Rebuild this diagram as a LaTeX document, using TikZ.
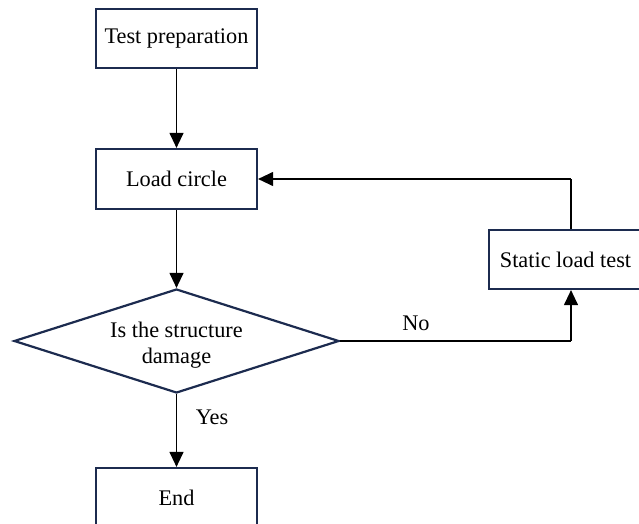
\documentclass[tikz,border=0pt]{standalone}
\usepackage{fontspec}
\setmainfont{Liberation Serif}
\usetikzlibrary{shapes.geometric,arrows.meta}
\definecolor{navy}{HTML}{1C2B4F}
\begin{document}
\begin{tikzpicture}[x=1pt,y=-1pt,
  txt/.style={font=\fontsize{22.3}{26}\selectfont},
  box/.style={txt,draw=navy,line width=2.2pt,rectangle,minimum width=161pt,minimum height=59pt,inner sep=0pt},
  dec/.style={draw=navy,line width=2.2pt,diamond,minimum width=325pt,minimum height=104pt,aspect=3.1,inner sep=0pt},
  conn/.style={draw=black,line width=1.2pt},
  arr/.style={conn,-{Triangle[length=15pt,width=14pt]}},
  lbl/.style={txt,inner sep=0pt}]
\useasboundingbox (0,0) rectangle (639,524);
\clip (0,0) rectangle (639,524);
\node[box] (tp) at (176.5,38.5) {Test preparation};
\node[box,minimum height=60pt] (lc) at (176.5,179) {Load circle};
\node[dec] (dm) at (176.5,341) {};
\node[txt,align=center,inner sep=0pt] (dmt) at (176.5,345) {Is the structure\\damage};
\node[box,minimum height=60pt] (en) at (176.5,498) {End};
\node[box,minimum width=153pt] (sl) at (565.5,259.5) {Static load test};
\coordinate (c1) at (571,341);
\coordinate (c2) at (571,179);
\draw[arr] (tp) -- (lc);
\draw[arr] (lc) -- (dm.north);
\draw[arr] (dm.south) -- (en);
\draw[conn] (dm.east) -- (c1);
\draw[arr] (c1) -- (c1 |- sl.south);
\draw[conn] (c1 |- sl.north) -- (c2);
\draw[arr] (c2) -- (lc.east);
\node[lbl] (no) at (416,323) {No};
\node[lbl] (yes) at (212,417) {Yes};
\end{tikzpicture}
\end{document}
